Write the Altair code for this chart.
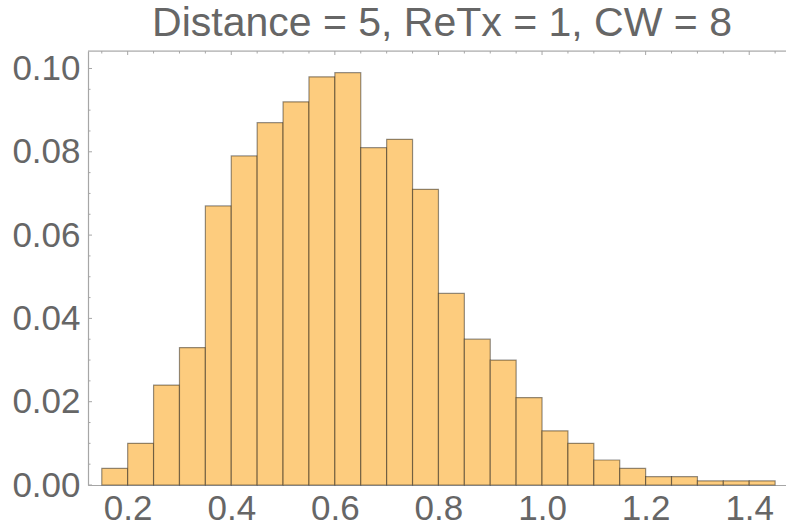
import altair as alt
import pandas as pd

bin_start = [0.15, 0.20, 0.25, 0.30, 0.35, 0.40, 0.45, 0.50, 0.55, 0.60, 0.65, 0.70, 0.75,
             0.80, 0.85, 0.90, 0.95, 1.00, 1.05, 1.10, 1.15, 1.20, 1.25, 1.30, 1.35, 1.40]
bin_width = 0.05
freq = [0.004, 0.010, 0.024, 0.033, 0.067, 0.079, 0.087, 0.092, 0.098, 0.099, 0.081, 0.083, 0.071,
        0.046, 0.035, 0.030, 0.021, 0.013, 0.010, 0.006, 0.004, 0.002, 0.002, 0.001, 0.001, 0.001]

x_ticks = [0.2, 0.4, 0.6, 0.8, 1.0, 1.2, 1.4]
x_minor = [0.15, 0.25, 0.3, 0.35, 0.45, 0.5, 0.55, 0.65, 0.7, 0.75, 0.85, 0.9, 0.95,
           1.05, 1.1, 1.15, 1.25, 1.3, 1.35, 1.45]
y_ticks = [0.00, 0.02, 0.04, 0.06, 0.08, 0.10]
y_minor = [0.005, 0.01, 0.015, 0.025, 0.03, 0.035, 0.045, 0.05, 0.055, 0.065, 0.07, 0.075,
           0.085, 0.09, 0.095]

x_domain = [0.1234, 1.471]
y_domain = [0.0, 0.1042]

bars = pd.DataFrame({"start": bin_start,
                     "end": [round(s + bin_width, 2) for s in bin_start],
                     "freq": freq})

W, H = 698, 434
gray = "#666666"
frame = "#a6a6a6"

xs = alt.Scale(domain=x_domain, nice=False, zero=False)
ys = alt.Scale(domain=y_domain, nice=False, zero=False)

base = alt.Chart(bars).mark_rect(
    fill="#fdcc7e", stroke="#000000", strokeOpacity=0.42, strokeWidth=1.2
).encode(
    x=alt.X("start:Q", scale=xs,
            axis=alt.Axis(values=x_ticks, format=".1f", title=None, ticks=False, grid=False,
                          domainColor=frame, domainWidth=1.2, labelColor=gray,
                          labelFontSize=35, labelFont="Liberation Sans", labelPadding=6,
                          labelFlush=False)),
    x2="end:Q",
    y=alt.Y("freq:Q", scale=ys,
            axis=alt.Axis(values=y_ticks, format=".2f", title=None, ticks=False, grid=False,
                          domainColor=frame, domainWidth=1.2, labelColor=gray,
                          labelFontSize=35, labelFont="Liberation Sans", labelPadding=8)),
    y2=alt.datum(0),
)

top_line = alt.Chart(pd.DataFrame({"y": [y_domain[1]]})).mark_rule(
    color=frame, strokeWidth=1.2
).encode(y=alt.Y("y:Q", scale=ys), x=alt.value(0), x2=alt.value(W))


def left_ticks(vals, length):
    return alt.Chart(pd.DataFrame({"y": vals})).mark_rule(color=frame, strokeWidth=1).encode(
        y=alt.Y("y:Q", scale=ys), x=alt.value(0), x2=alt.value(length))


def top_ticks(vals, length):
    return alt.Chart(pd.DataFrame({"x": vals})).mark_rule(color=frame, strokeWidth=1).encode(
        x=alt.X("x:Q", scale=xs), y=alt.value(0), y2=alt.value(length))


chart = alt.layer(
    base, top_line,
    left_ticks(y_ticks, 4), left_ticks(y_minor, 2.5),
    top_ticks(x_ticks, 4), top_ticks(x_minor, 2.5),
).properties(
    width=W, height=H,
    title=alt.TitleParams("Distance = 5, ReTx = 1, CW = 8", fontSize=41, font="Liberation Sans",
                          fontWeight="normal", color=gray, anchor="middle", offset=5, dx=5),
    autosize=alt.AutoSizeParams(type="none"),
    padding={"left": 88, "top": 51, "right": 0, "bottom": 43},
).configure_view(stroke=None).configure(background="white")

chart.save("out.html", embed_options={"renderer": "svg", "actions": False})
